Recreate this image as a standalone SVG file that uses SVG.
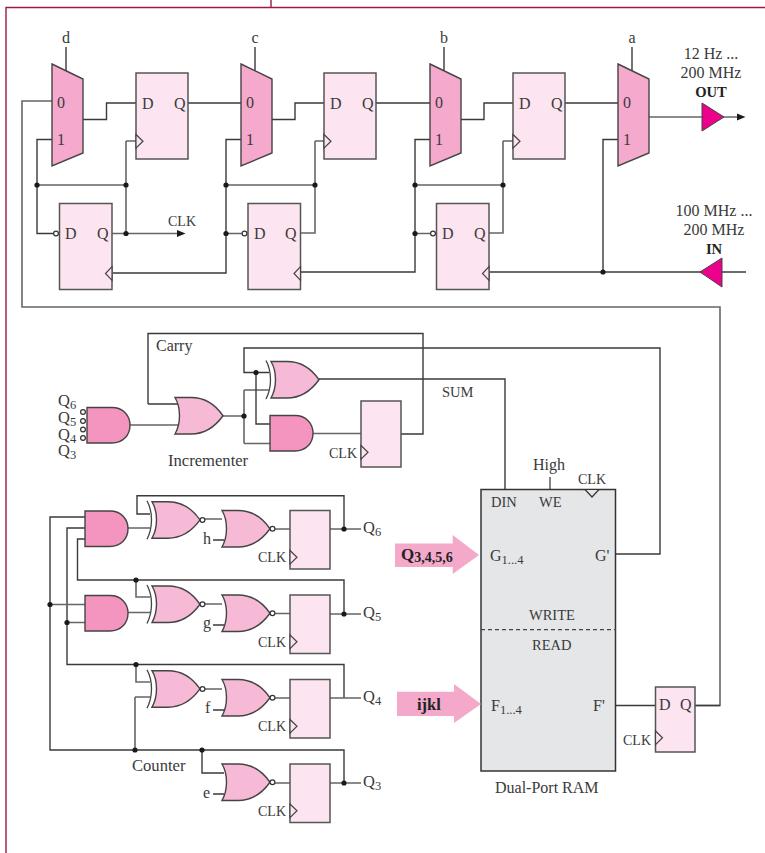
<svg xmlns="http://www.w3.org/2000/svg" xmlns:xlink="http://www.w3.org/1999/xlink" width="765" height="853" viewBox="0 0 765 853">
<style>
text{font-family:"Liberation Serif","Times New Roman",serif;font-size:16px;fill:#3a3a3a}
.b{font-weight:bold;fill:#222;font-size:14.6px}
.m{text-anchor:middle}
.big{font-size:16.5px}
.c{font-size:14px}
.t{font-size:14.5px}
.l{font-size:16.6px}
.sub{font-size:12.5px}
.w{fill:none;stroke:#3a3a3a;stroke-width:1.4}
.g{fill:none;stroke:#666;stroke-width:1.6}
.ff{fill:#fce5f0;stroke:#555;stroke-width:1.5}
.ck{fill:#fce5f0;stroke:#444;stroke-width:1.2}
.and{fill:#f495bf;stroke:#444;stroke-width:1.4}
.or{fill:#f6b9d6;stroke:#444;stroke-width:1.4}
.mux{fill:#f5a9cc;stroke:#444;stroke-width:1.4}
.tri{fill:#ec008c;stroke:#444;stroke-width:1}
.arr{fill:#f4a9cb}
.bub{fill:#fff;stroke:#333;stroke-width:1.2}
.d{fill:#1a1a1a}
</style>
<defs>
<path id="andg" class="and" d="M0 0H25C36 0 43 8 43 17.7C43 27.5 36 35.5 25 35.5H0Z"/>
<path id="org" class="or" d="M0 0H16C30 0 41 8 48 18.25C41 28 30 36.5 16 36.5H0C6 26 6 10 0 0Z"/>
<g id="xorg"><path class="or" d="M0 0H16C30 0 41 8 48 18.25C41 28 30 36.5 16 36.5H0C6 26 6 10 0 0Z"/><path fill="none" stroke="#444" stroke-width="1.3" d="M-5 -1C1 10 1 26 -5 37.5"/></g>
<g id="xnorg"><use xlink:href="#xorg"/><circle class="bub" cx="50.500" cy="18.250" r="2.400"/></g>
<g id="norg"><path class="or" d="M0 0H16C30 0 41 8 48 18.25C41 28 30 36.5 16 36.5H0C6 26 6 10 0 0Z"/><circle class="bub" cx="50.5" cy="18.25" r="2.4"/></g>
<polygon id="ckr" class="ck" points="0,0 7,6.8 0,13.6"/>
<polygon id="ckl" class="ck" points="0,0 -6.5,6.8 0,13.6"/>
<polygon id="muxs" class="mux" points="0,0 31,15 31,89 0,102"/>
</defs>

<path id="frame" fill="none" stroke="#9b1b45" stroke-width="1.4" d="M6 853V7.5H765M271 0V7.5"/>

<g id="connectors">
<path class="g" d="M52 101H22V307H720V705.5H695"/>
<path class="w" d="M66 47V71M255 47V71M444 47V71M632 47V71"/>
<path class="w" d="M83 119.5H106.5V103H136M188 103H241M272 119.5H295V103H324M376 103H430M461 119.5H484V103H513M565 103H618"/>
<path class="w" d="M52 139.5H37V233.5H53M241 139.5H226V273H113M430 139.5H415V272H301M618 139.5H603V272"/>
<path class="g" d="M37 185H126M126 141V233M126 141H136M226 185H315M315 141V233H300M315 141H324M415 185H503M503 141V233H489M503 141H513M226 233.5H245M415 233.5H433"/>
<path class="g" d="M112 233.5H178"/>
<polygon class="d" points="177,230 185.5,233.5 177,237"/>
<path class="w" d="M490 272H746"/>
<path class="g" d="M649 117H737"/>
<polygon class="d" points="737,113.5 745.5,117 737,120.5"/>
<path class="w" d="M148 404V333.5H423V434H401M148 404H178"/>
<path class="g" d="M129 425H179M223 416H244M244 390V443.5M244 390H269M244 443.5H270M313 433.5H361"/>
<path class="w" d="M269 372.5H244V348H660V554H616M256 372.5V424H270M319 379H505V490"/>
<path class="g" d="M550 477V490"/>
<path class="w" d="M85 517H50V750H344V783M85 528H67V664.5H344V698M85 539H77.5V580H344V614"/>
<path class="g" d="M128 528H150M128 612.5H150M205 519H222M205 604H222M205 689H222M275 529H290M275 613.5H290M275 698H290M275 783H290M50 604.5H85M67 622.5H85M330 529H361M330 614H361M330 698H361M330 783H361M136 580V597H150M136 664.5V682H150M135 697H150M135 697V750"/>
<path class="w" d="M150 514H137V495.7H344V529M202 750V773H224M213 540H224M213 625H224M213 710H224M213 794H224"/>
<path class="w" d="M616 705.5H655M695 705.5H720"/>
<g class="d">
<circle cx="37" cy="185" r="2.6"/><circle cx="126" cy="185" r="2.6"/><circle cx="126" cy="233.5" r="2.6"/>
<circle cx="226" cy="185" r="2.6"/><circle cx="315" cy="185" r="2.6"/><circle cx="226" cy="233.5" r="2.6"/>
<circle cx="415" cy="185" r="2.6"/><circle cx="503" cy="185" r="2.6"/><circle cx="415" cy="233.5" r="2.6"/>
<circle cx="603" cy="272" r="2.6"/>
<circle cx="244" cy="416" r="2.6"/><circle cx="256" cy="372.5" r="2.6"/>
<circle cx="344" cy="529" r="2.6"/><circle cx="344" cy="614" r="2.6"/><circle cx="344" cy="783" r="2.6"/>
<circle cx="136" cy="580" r="2.6"/><circle cx="136" cy="664.5" r="2.6"/><circle cx="135" cy="750" r="2.6"/><circle cx="202" cy="750" r="2.6"/>
<circle cx="50" cy="604.5" r="2.6"/><circle cx="67" cy="622.5" r="2.6"/>
</g>
</g>

<g id="mux-d"><use xlink:href="#muxs" x="52" y="64"/><text x="61" y="107.5" class="m">0</text><text x="61" y="145" class="m">1</text><text x="66" y="43" class="m">d</text></g>
<g id="mux-c"><use xlink:href="#muxs" x="241" y="64"/><text x="250" y="107.5" class="m">0</text><text x="250" y="145" class="m">1</text><text x="255" y="43" class="m">c</text></g>
<g id="mux-b"><use xlink:href="#muxs" x="430" y="64"/><text x="439" y="107.5" class="m">0</text><text x="439" y="145" class="m">1</text><text x="444" y="43" class="m">b</text></g>
<g id="mux-a"><use xlink:href="#muxs" x="618" y="64"/><text x="627" y="107.5" class="m">0</text><text x="627" y="145" class="m">1</text><text x="632" y="43" class="m">a</text></g>

<g id="ff-top-1"><rect class="ff" x="136" y="73" width="52" height="86"/><use xlink:href="#ckr" x="136" y="134.5"/><text x="142" y="109">D</text><text x="174" y="109">Q</text></g>
<g id="ff-top-2"><rect class="ff" x="324" y="73" width="52" height="86"/><use xlink:href="#ckr" x="324" y="134.5"/><text x="330" y="109">D</text><text x="362" y="109">Q</text></g>
<g id="ff-top-3"><rect class="ff" x="513" y="73" width="52" height="86"/><use xlink:href="#ckr" x="513" y="134.5"/><text x="519" y="109">D</text><text x="551" y="109">Q</text></g>

<g id="ff-low-1"><rect class="ff" x="59.500" y="203.500" width="52.500" height="86"/><use xlink:href="#ckl" x="112" y="266.700"/><circle class="bub" cx="56" cy="233.500" r="2.400"/><text x="65" y="239">D</text><text x="97" y="239">Q</text></g>
<g id="ff-low-2"><rect class="ff" x="248" y="203.500" width="52.500" height="86"/><use xlink:href="#ckl" x="300.500" y="266.700"/><circle class="bub" cx="244.500" cy="233.500" r="2.400"/><text x="254" y="239">D</text><text x="285" y="239">Q</text></g>
<g id="ff-low-3"><rect class="ff" x="436.500" y="203.500" width="52.500" height="86"/><use xlink:href="#ckl" x="489" y="266.700"/><circle class="bub" cx="433" cy="233.500" r="2.400"/><text x="442" y="239">D</text><text x="474" y="239">Q</text></g>
<text id="lbl-clk" x="168" y="226" class="c">CLK</text>

<g id="out-buffer"><polygon class="tri" points="702,103 724,117 702,131"/><text x="711" y="59" class="m">12 Hz ...</text><text x="711" y="78" class="m">200 MHz</text><text x="711" y="97" class="m b">OUT</text></g>
<g id="in-buffer"><polygon class="tri" points="700,272 722,258 722,287"/><text x="714" y="216" class="m">100 MHz ...</text><text x="714" y="235" class="m">200 MHz</text><text x="714" y="254" class="m b">IN</text></g>

<g id="inc-and"><use xlink:href="#andg" x="87" y="407.500"/><circle class="bub" cx="83" cy="412" r="2.400"/><circle class="bub" cx="83" cy="421" r="2.400"/><circle class="bub" cx="83" cy="429.500" r="2.400"/><circle class="bub" cx="83" cy="438" r="2.400"/>
<text x="58" y="406" class="big">Q<tspan class="sub" dy="3">6</tspan></text><text x="58" y="423" class="big">Q<tspan class="sub" dy="3">5</tspan></text><text x="58" y="440" class="big">Q<tspan class="sub" dy="3">4</tspan></text><text x="58" y="456" class="big">Q<tspan class="sub" dy="3">3</tspan></text></g>
<g id="inc-or"><use xlink:href="#org" x="175" y="397.500"/></g>
<g id="inc-xor"><use xlink:href="#xorg" x="271" y="361.500"/></g>
<g id="inc-and2"><use xlink:href="#andg" x="270" y="415.500"/></g>
<g id="inc-ff"><rect class="ff" x="361" y="401" width="40" height="66"/><use xlink:href="#ckr" x="361" y="445.500"/><text x="329" y="458" class="c">CLK</text></g>
<text id="lbl-carry" x="156" y="351">Carry</text>
<text id="lbl-sum" x="442" y="397" class="t">SUM</text>
<text id="lbl-inc" x="168" y="466" class="l">Incrementer</text>
<text id="lbl-counter" x="132" y="771" class="l">Counter</text>

<g id="cnt-and1"><use xlink:href="#andg" x="85" y="511"/></g>
<g id="cnt-and2"><use xlink:href="#andg" x="85" y="595.500"/></g>
<g id="cnt-xor1"><use xlink:href="#xnorg" x="152" y="501.700"/></g>
<g id="cnt-xor2"><use xlink:href="#xnorg" x="152" y="586"/></g>
<g id="cnt-xor3"><use xlink:href="#xnorg" x="152" y="670.700"/></g>
<g id="cnt-nor1"><use xlink:href="#norg" x="222" y="510.500"/><text x="203" y="544">h</text></g>
<g id="cnt-nor2"><use xlink:href="#norg" x="222" y="595"/><text x="203" y="628">g</text></g>
<g id="cnt-nor3"><use xlink:href="#norg" x="222" y="679.500"/><text x="205" y="713">f</text></g>
<g id="cnt-nor4"><use xlink:href="#norg" x="222" y="764"/><text x="203" y="798">e</text></g>
<g id="cnt-ff1"><rect class="ff" x="290" y="510.500" width="40" height="58.500"/><use xlink:href="#ckr" x="290" y="550.500"/><text x="258" y="562" class="c">CLK</text><text x="363" y="533" class="big">Q<tspan class="sub" dy="3">6</tspan></text></g>
<g id="cnt-ff2"><rect class="ff" x="290" y="595" width="40" height="58.500"/><use xlink:href="#ckr" x="290" y="635"/><text x="258" y="646.500" class="c">CLK</text><text x="363" y="618" class="big">Q<tspan class="sub" dy="3">5</tspan></text></g>
<g id="cnt-ff3"><rect class="ff" x="290" y="679.500" width="40" height="58.500"/><use xlink:href="#ckr" x="290" y="719.500"/><text x="258" y="731" class="c">CLK</text><text x="363" y="702" class="big">Q<tspan class="sub" dy="3">4</tspan></text></g>
<g id="cnt-ff4"><rect class="ff" x="290" y="764" width="40" height="58.500"/><use xlink:href="#ckr" x="290" y="804"/><text x="258" y="815.500" class="c">CLK</text><text x="363" y="787" class="big">Q<tspan class="sub" dy="3">3</tspan></text></g>

<g id="ram">
<rect x="481" y="489.500" width="134.500" height="281.500" fill="#e5e6e8" stroke="#333" stroke-width="1.500"/>
<path d="M481 629.700H616" stroke="#444" stroke-width="1.200" stroke-dasharray="4 3" fill="none"/>
<polygon points="585,489.500 592,497 599,489.500" fill="#e5e6e8" stroke="#333" stroke-width="1.200"/>
<text x="491" y="507" class="t">DIN</text><text x="539" y="507" class="t">WE</text><text x="533" y="470">High</text><text x="578" y="484" class="c">CLK</text>
<text x="490" y="561">G<tspan class="sub" dy="3">1...4</tspan></text><text x="595" y="561">G'</text>
<text x="529" y="620" class="t">WRITE</text><text x="532" y="650" class="t">READ</text>
<text x="491" y="711">F<tspan class="sub" dy="3">1...4</tspan></text><text x="593" y="711">F'</text>
<text x="495" y="793">Dual-Port RAM</text>
</g>
<g id="arrow-q"><polygon class="arr" points="395,543.500 452.700,543.500 452.700,535 479,555 452.700,574 452.700,567 395,567"/><text x="401" y="560" class="b" style="font-size:17px">Q<tspan font-size="14" dy="2">3,4,5,6</tspan></text></g>
<g id="arrow-ijkl"><polygon class="arr" points="397,691.700 454,691.700 454,684 481,704 454,723 454,716 397,716"/><text x="417" y="710" class="b" style="font-size:16.5px">ijkl</text></g>
<g id="ff-out"><rect class="ff" x="655.500" y="687" width="39.500" height="65"/><use xlink:href="#ckr" x="655.500" y="731"/><text x="659" y="710">D</text><text x="680" y="710">Q</text><text x="623" y="745" class="c">CLK</text></g>
</svg>
